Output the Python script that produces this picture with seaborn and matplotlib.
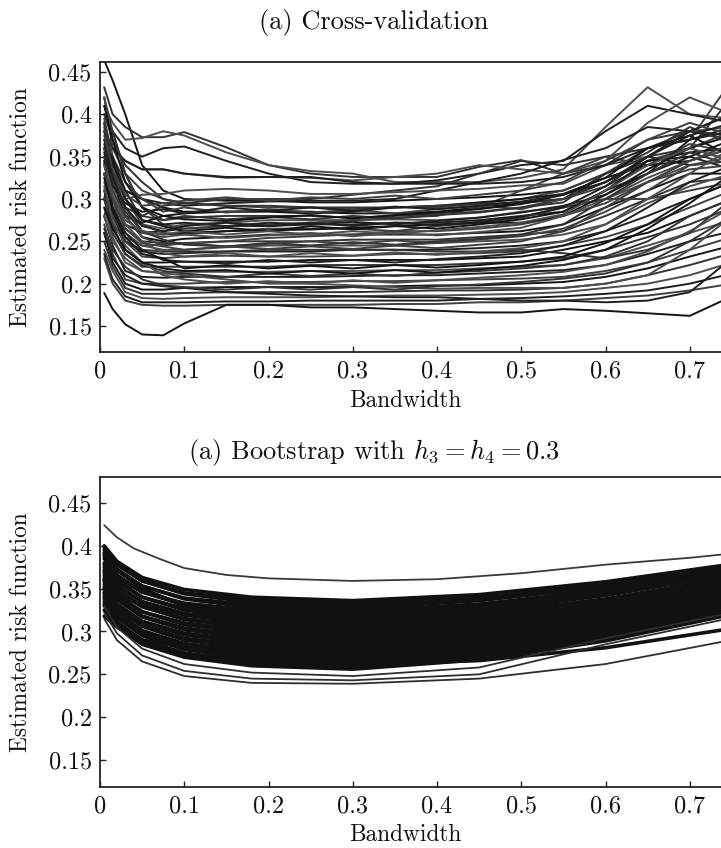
import numpy as np
import pandas as pd
import matplotlib
matplotlib.use("Agg")
import matplotlib.pyplot as plt
import seaborn as sns

# ---------------------------------------------------------------------------
# Cross-validation risk curves (one list per replicate), sampled at cv_bandwidth
# ---------------------------------------------------------------------------
cv_bandwidth = [0.005, 0.015, 0.03, 0.05, 0.075, 0.1, 0.15, 0.2, 0.25, 0.3,
                0.35, 0.4, 0.45, 0.5, 0.55, 0.6, 0.65, 0.7, 0.75]

cv_risk = [
    [.464, .440, .400, .340, .310, .300, .298, .298, .296, .296, .298, .300, .302, .305, .310, .330, .350, .340, .345],
    [.432, .400, .385, .373, .373, .379, .361, .340, .330, .326, .326, .326, .338, .346, .330, .340, .370, .380, .375],
    [.410, .390, .370, .372, .380, .375, .355, .340, .333, .330, .320, .320, .320, .325, .335, .385, .432, .400, .395],
    [.400, .380, .360, .350, .360, .362, .345, .330, .320, .318, .318, .322, .330, .340, .345, .380, .410, .400, .390],
    [.420, .360, .330, .310, .300, .295, .292, .290, .290, .288, .290, .290, .295, .300, .310, .330, .360, .370, .440],
    [.380, .340, .310, .300, .290, .285, .285, .286, .285, .283, .283, .285, .290, .295, .300, .320, .345, .355, .360],
    [.370, .330, .300, .280, .275, .278, .280, .280, .280, .278, .280, .282, .285, .290, .300, .330, .350, .360, .345],
    [.350, .310, .280, .270, .265, .270, .272, .275, .275, .275, .276, .275, .278, .285, .290, .300, .320, .340, .350],
    [.330, .300, .270, .260, .262, .265, .268, .268, .270, .270, .272, .272, .275, .280, .285, .310, .330, .350, .335],
    [.390, .350, .300, .270, .260, .258, .262, .265, .265, .265, .262, .262, .265, .270, .280, .295, .320, .335, .340],
    [.360, .320, .280, .255, .250, .253, .255, .258, .258, .258, .258, .258, .260, .262, .270, .290, .310, .330, .330],
    [.340, .300, .265, .250, .248, .248, .250, .250, .250, .252, .252, .252, .255, .258, .262, .280, .300, .320, .325],
    [.320, .290, .260, .245, .240, .240, .243, .245, .245, .245, .245, .248, .250, .252, .258, .270, .295, .315, .330],
    [.300, .280, .250, .238, .235, .236, .238, .238, .238, .240, .240, .240, .242, .245, .250, .262, .280, .300, .320],
    [.350, .300, .250, .232, .230, .232, .233, .232, .232, .233, .235, .235, .236, .238, .245, .255, .270, .290, .310],
    [.330, .290, .240, .225, .225, .226, .226, .226, .228, .228, .228, .228, .230, .232, .240, .250, .260, .280, .300],
    [.310, .270, .235, .220, .220, .220, .220, .220, .222, .222, .222, .222, .224, .226, .230, .240, .255, .270, .290],
    [.290, .255, .225, .215, .213, .214, .214, .214, .215, .215, .216, .216, .218, .220, .222, .230, .245, .260, .275],
    [.280, .245, .215, .208, .207, .208, .208, .208, .208, .209, .210, .210, .212, .214, .216, .222, .235, .250, .262],
    [.270, .235, .205, .200, .200, .200, .202, .202, .202, .203, .203, .204, .205, .206, .208, .215, .225, .240, .255],
    [.260, .225, .200, .193, .193, .195, .196, .196, .196, .196, .197, .198, .198, .200, .202, .208, .218, .232, .245],
    [.250, .220, .195, .188, .188, .189, .190, .190, .190, .190, .191, .192, .192, .193, .195, .200, .210, .222, .236],
    [.240, .215, .190, .183, .182, .183, .184, .184, .184, .185, .186, .186, .187, .188, .190, .195, .200, .210, .225],
    [.235, .205, .185, .178, .178, .178, .179, .179, .180, .180, .180, .180, .182, .183, .185, .188, .192, .200, .212],
    [.230, .200, .180, .175, .174, .174, .175, .175, .175, .175, .176, .176, .178, .178, .180, .183, .186, .192, .200],
    [.189, .170, .152, .140, .139, .153, .175, .175, .172, .172, .170, .168, .166, .166, .170, .168, .165, .162, .185],
    [.400, .370, .340, .320, .300, .295, .300, .300, .300, .305, .310, .315, .330, .345, .340, .350, .360, .380, .400],
    [.380, .360, .345, .335, .335, .330, .325, .326, .325, .322, .326, .330, .340, .335, .330, .345, .390, .420, .400],
    [.360, .330, .310, .300, .295, .292, .295, .297, .298, .298, .300, .310, .320, .330, .346, .360, .385, .380, .370],
    [.420, .380, .330, .290, .270, .265, .268, .270, .272, .275, .278, .280, .290, .310, .330, .350, .340, .360, .380],
    [.330, .300, .280, .272, .280, .283, .285, .285, .283, .285, .290, .292, .296, .300, .306, .325, .340, .345, .360],
    [.300, .270, .250, .240, .238, .238, .238, .240, .240, .240, .240, .238, .238, .240, .236, .230, .240, .260, .300],
    [.280, .250, .230, .215, .212, .210, .205, .200, .200, .198, .196, .194, .195, .195, .195, .200, .210, .240, .280],
    [.260, .230, .210, .200, .197, .195, .190, .188, .186, .185, .184, .184, .182, .180, .180, .178, .180, .190, .230],
    [.310, .280, .255, .245, .246, .247, .250, .254, .256, .258, .262, .268, .272, .278, .290, .300, .300, .310, .320],
    [.390, .330, .290, .262, .258, .260, .262, .263, .264, .266, .268, .270, .272, .272, .280, .305, .335, .360, .375],
    [.350, .320, .290, .280, .292, .295, .292, .292, .290, .290, .290, .292, .294, .296, .300, .320, .345, .360, .420],
    [.345, .310, .300, .305, .306, .310, .312, .310, .306, .306, .308, .310, .312, .316, .318, .340, .350, .380, .385],
    [.380, .360, .345, .335, .335, .330, .326, .326, .326, .320, .318, .318, .318, .320, .326, .340, .360, .370, .380],
    [.395, .350, .320, .300, .285, .290, .284, .288, .284, .287, .283, .288, .292, .288, .300, .315, .340, .365, .355],
    [.370, .345, .300, .275, .268, .262, .266, .262, .268, .264, .268, .265, .270, .276, .285, .310, .345, .350, .370],
    [.340, .380, .330, .290, .275, .280, .276, .279, .276, .280, .277, .281, .284, .290, .296, .330, .355, .385, .365],
    [.310, .330, .290, .260, .255, .258, .254, .257, .260, .256, .260, .257, .261, .266, .280, .300, .325, .345, .360],
    [.300, .350, .310, .275, .270, .272, .268, .272, .270, .273, .270, .274, .278, .284, .292, .305, .330, .370, .385],
    [.280, .310, .280, .255, .245, .248, .244, .247, .250, .247, .251, .248, .252, .256, .265, .285, .310, .340, .345],
    [.410, .370, .320, .290, .280, .276, .274, .278, .281, .277, .281, .284, .288, .294, .305, .325, .360, .375, .350],
    [.385, .330, .285, .262, .252, .246, .244, .248, .245, .249, .246, .250, .253, .258, .270, .300, .330, .355, .340],
    [.360, .300, .270, .250, .236, .232, .236, .232, .236, .233, .237, .234, .238, .242, .250, .270, .300, .330, .360],
    [.345, .290, .260, .240, .228, .226, .224, .228, .225, .228, .225, .229, .232, .236, .245, .262, .290, .320, .340],
    [.330, .300, .265, .248, .244, .240, .244, .241, .244, .241, .245, .242, .246, .250, .262, .290, .320, .345, .365],
    [.325, .285, .255, .235, .230, .218, .222, .218, .221, .218, .222, .219, .222, .226, .232, .248, .270, .300, .320],
    [.300, .260, .235, .222, .215, .212, .208, .212, .209, .212, .209, .213, .215, .218, .222, .232, .250, .280, .300],
    [.315, .275, .245, .225, .210, .205, .200, .203, .200, .204, .201, .204, .207, .210, .214, .222, .238, .262, .290],
    [.355, .315, .295, .285, .288, .283, .290, .286, .290, .286, .291, .288, .292, .297, .305, .320, .350, .380, .400],
    [.375, .335, .305, .292, .295, .298, .302, .298, .302, .300, .304, .300, .305, .310, .320, .345, .370, .390, .375],
    [.290, .265, .240, .225, .218, .215, .216, .212, .215, .212, .216, .213, .217, .221, .228, .240, .265, .295, .330],
    [.265, .240, .220, .205, .198, .196, .193, .196, .193, .196, .193, .197, .199, .202, .206, .212, .225, .250, .280],
    [.340, .305, .275, .262, .258, .262, .258, .262, .258, .262, .259, .263, .267, .272, .282, .310, .340, .360, .345],
    [.365, .325, .290, .268, .262, .268, .272, .268, .272, .268, .272, .269, .273, .279, .290, .315, .350, .375, .390],
]

# ---------------------------------------------------------------------------
# Bootstrap risk curves, sampled at bs_bandwidth
# ---------------------------------------------------------------------------
bs_bandwidth = [0.005, 0.02, 0.05, 0.1, 0.18, 0.3, 0.45, 0.6, 0.76]

bs_risk = [
    [.400, .382, .363, .349, .340, .336, .343, .358, .380],
    [.395, .378, .359, .345, .337, .333, .341, .355, .378],
    [.398, .379, .359, .344, .334, .330, .338, .353, .376],
    [.388, .371, .353, .339, .331, .327, .336, .352, .377],
    [.392, .373, .353, .338, .328, .324, .332, .348, .372],
    [.380, .363, .346, .333, .325, .321, .329, .345, .370],
    [.385, .366, .346, .331, .322, .318, .327, .343, .368],
    [.375, .358, .340, .327, .319, .315, .324, .342, .369],
    [.378, .360, .340, .325, .316, .312, .321, .338, .365],
    [.370, .353, .335, .321, .313, .309, .318, .335, .362],
    [.372, .354, .334, .319, .310, .306, .315, .333, .360],
    [.365, .348, .329, .315, .307, .303, .312, .330, .358],
    [.368, .349, .329, .314, .304, .300, .309, .327, .355],
    [.360, .342, .323, .310, .301, .297, .307, .326, .356],
    [.362, .343, .323, .308, .298, .294, .304, .323, .352],
    [.355, .337, .318, .304, .295, .291, .301, .320, .350],
    [.358, .338, .317, .302, .292, .288, .298, .317, .347],
    [.350, .332, .312, .298, .289, .285, .295, .315, .345],
    [.352, .332, .311, .296, .286, .282, .292, .312, .343],
    [.345, .327, .307, .292, .283, .279, .289, .309, .340],
    [.348, .328, .306, .290, .280, .276, .287, .307, .338],
    [.340, .321, .301, .286, .277, .273, .284, .304, .336],
    [.342, .322, .300, .284, .274, .270, .281, .301, .333],
    [.335, .316, .296, .281, .271, .267, .278, .298, .330],
    [.338, .317, .295, .279, .268, .264, .275, .296, .328],
    [.330, .311, .290, .275, .265, .261, .272, .293, .325],
    [.332, .311, .289, .273, .262, .258, .269, .290, .323],
    [.325, .306, .285, .270, .260, .256, .267, .289, .322],
    [.390, .372, .350, .330, .315, .305, .310, .322, .340],
    [.318, .305, .290, .282, .280, .283, .296, .318, .350],
    [.360, .345, .330, .320, .318, .320, .330, .350, .375],
    [.345, .325, .300, .282, .270, .262, .266, .281, .305],
]

# lower bootstrap curves that separate from the main band
bs_low_risk = [
    [.315, .290, .265, .248, .240, .239, .245, .262, .292],
    [.322, .298, .272, .254, .245, .243, .250, .285, .318],
    [.330, .305, .280, .262, .252, .248, .258, .292, .324],
]

# the single high bootstrap curve, sampled more finely
bs_high_bandwidth = [0.005, 0.02, 0.04, 0.07, 0.1, 0.15, 0.2, 0.3, 0.4, 0.5, 0.6, 0.7, 0.76]
bs_high_risk = [.424, .410, .397, .385, .374, .366, .362, .359, .361, .368, .378, .386, .392]

x_ticks = [0, 0.1, 0.2, 0.3, 0.4, 0.5, 0.6, 0.7]
x_tick_labels = ["0", "0.1", "0.2", "0.3", "0.4", "0.5", "0.6", "0.7"]
y_ticks = [0.15, 0.2, 0.25, 0.3, 0.35, 0.4, 0.45]
y_tick_labels = ["0.15", "0.2", "0.25", "0.3", "0.35", "0.4", "0.45"]

titles = ["(a) Cross-validation", r"(a) Bootstrap with $h_3 = h_4 = 0.3$"]
x_label = "Bandwidth"
y_label = "Estimated risk function"

# ---------------------------------------------------------------------------
sns.set_theme(style="ticks")
plt.rcParams["font.family"] = ["cmr10", "DejaVu Serif"]
plt.rcParams["mathtext.fontset"] = "cm"
plt.rcParams["axes.unicode_minus"] = False
plt.rcParams["axes.formatter.use_mathtext"] = True

TICK_FS = 17.5
LABEL_FS = 16.8
TITLE_FS = 19
W, H = 721, 848
fig = plt.figure(figsize=(W / 100, H / 100), dpi=100)


# axes rectangles in pixels (left, top, right, bottom); right edge runs off the canvas
def px_axes(left, top, right, bottom):
    return fig.add_axes([left / W, 1 - bottom / H, (right - left) / W, (bottom - top) / H])


ax_cv = px_axes(100, 62, 774, 352)
ax_bs = px_axes(100, 477, 774, 787)


def long_frame(xs, curves):
    n = len(curves)
    return pd.DataFrame({
        "bandwidth": np.tile(np.asarray(xs, float), n),
        "risk": np.concatenate([np.asarray(c, float) for c in curves]),
        "curve": np.repeat(np.arange(n), len(xs)),
    })


# cross-validation panel
cv_df = long_frame(cv_bandwidth, cv_risk)
cv_shades = ["#141414", "#333333", "#4e4e4e", "#1f1f1f", "#404040"]
cv_pal = {k: cv_shades[k % len(cv_shades)] for k in cv_df["curve"].unique()}
sns.lineplot(data=cv_df, x="bandwidth", y="risk", hue="curve", palette=cv_pal,
             estimator=None, sort=False, legend=False, lw=1.4, ax=ax_cv)

# bootstrap panel: dense band, lower curves, high curve
bs_df = long_frame(bs_bandwidth, bs_risk)
bs_pal = {k: "#111111" for k in bs_df["curve"].unique()}
sns.lineplot(data=bs_df, x="bandwidth", y="risk", hue="curve", palette=bs_pal,
             estimator=None, sort=False, legend=False, lw=2.6, ax=ax_bs)

low_df = long_frame(bs_bandwidth, bs_low_risk)
low_pal = {k: "#2e2e2e" for k in low_df["curve"].unique()}
sns.lineplot(data=low_df, x="bandwidth", y="risk", hue="curve", palette=low_pal,
             estimator=None, sort=False, legend=False, lw=1.3, ax=ax_bs)

high_df = pd.DataFrame({"bandwidth": bs_high_bandwidth, "risk": bs_high_risk})
sns.lineplot(data=high_df, x="bandwidth", y="risk", color="#3a3a3a",
             estimator=None, sort=False, lw=1.3, ax=ax_bs)

for ax, ylim in [(ax_cv, (0.1193, 0.4618)), (ax_bs, (0.1185, 0.4803))]:
    ax.set_xlim(0, 0.8)
    ax.set_ylim(*ylim)
    ax.set_xticks(x_ticks)
    ax.set_xticklabels(x_tick_labels)
    ax.set_yticks(y_ticks)
    ax.set_yticklabels(y_tick_labels)
    ax.tick_params(direction="in", length=4, width=1.0, colors="#222222",
                   labelsize=TICK_FS, pad=6, labelcolor="#111111")
    ax.set_xlabel("")
    ax.set_ylabel("")
    for side in ["left", "bottom", "top", "right"]:
        ax.spines[side].set_visible(True)
        ax.spines[side].set_linewidth(1.3)
        ax.spines[side].set_color("#222222")
    ax.set_facecolor("white")


# titles and axis labels placed in pixel coordinates
def fig_text(x, y, s, fs, **kw):
    fig.text(x / W, 1 - y / H, s, fontsize=fs, color="#111111", **kw)


fig_text(374, 23, titles[0], TITLE_FS, ha="center", va="center")
fig_text(374, 452, titles[1], TITLE_FS, ha="center", va="center")
fig_text(405, 401, x_label, LABEL_FS, ha="center", va="center")
fig_text(405, 835, x_label, LABEL_FS, ha="center", va="center")
fig_text(21, 207, y_label, LABEL_FS, ha="center", va="center", rotation=90)
fig_text(21, 632, y_label, LABEL_FS, ha="center", va="center", rotation=90)

fig.savefig("out.png", dpi=100, facecolor="white")
